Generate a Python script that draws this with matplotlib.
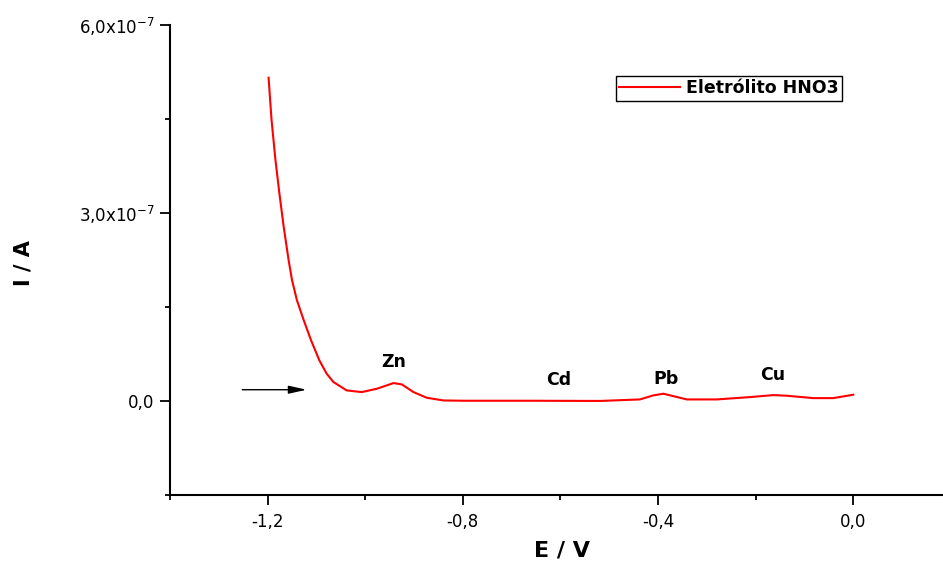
import matplotlib
matplotlib.use("Agg")
import matplotlib.pyplot as plt
from matplotlib.ticker import FixedLocator

# ---- data ----
potential_V = [-1.198, -1.192, -1.184, -1.176, -1.167, -1.157, -1.150, -1.140,
               -1.126, -1.111, -1.094, -1.079, -1.065, -1.038, -1.007, -0.976,
               -0.942, -0.925, -0.901, -0.874, -0.840, -0.799, -0.662, -0.519,
               -0.437, -0.410, -0.389, -0.372, -0.341, -0.280, -0.212, -0.164,
               -0.136, -0.082, -0.041, 0.000]
current_e7 = [5.155, 4.488, 3.848, 3.320, 2.776, 2.248, 1.928, 1.608,
              1.288, 0.968, 0.648, 0.435, 0.301, 0.168, 0.141, 0.195,
              0.285, 0.264, 0.141, 0.051, 0.008, 0.003, 0.003, 0.000,
              0.024, 0.088, 0.115, 0.083, 0.024, 0.024, 0.061, 0.093,
              0.083, 0.045, 0.045, 0.099]
current_A = [v * 1e-7 for v in current_e7]

series_label = "Eletrólito HNO3"
peak_names = ["Zn", "Cd", "Pb", "Cu"]
peak_E = [-0.942, -0.603, -0.384, -0.166]
peak_I = [6.2e-8, 3.3e-8, 3.55e-8, 4.2e-8]

x_major = [-1.2, -0.8, -0.4, 0.0]
x_major_labels = ["-1,2", "-0,8", "-0,4", "0,0"]
x_minor = [-1.4, -1.0, -0.6, -0.2]
y_major = [0.0, 3e-7, 6e-7]
y_major_labels = ["0,0", r"3,0x10$^{-7}$", r"6,0x10$^{-7}$"]
y_minor = [-1.5e-7, 1.5e-7, 4.5e-7]

W, H = 943, 561
fig = plt.figure(figsize=(W / 100, H / 100), dpi=100)
left, right_px, top_px, bottom_px = 170, 943, 24.7, 495
ax = fig.add_axes([left / W, (H - bottom_px) / H,
                   (right_px - left) / W, (bottom_px - top_px) / H])

ax.plot(potential_V, current_A, color="#ff0000", lw=1.5, label=series_label)

ax.set_xlim(-1.4, 0.184)
ax.set_ylim(-1.5e-7, 6e-7)

for s in ["top", "right"]:
    ax.spines[s].set_visible(False)
for s in ["left", "bottom"]:
    ax.spines[s].set_linewidth(1.5)

ax.xaxis.set_major_locator(FixedLocator(x_major))
ax.set_xticklabels(x_major_labels)
ax.xaxis.set_minor_locator(FixedLocator(x_minor))
ax.yaxis.set_major_locator(FixedLocator(y_major))
ax.set_yticklabels(y_major_labels)
ax.yaxis.set_minor_locator(FixedLocator(y_minor))

ax.tick_params(which="major", length=7, width=1.3, labelsize=12, pad=4)
ax.tick_params(which="minor", length=3.5, width=1.3)
ax.tick_params(axis="x", which="major", pad=6)

ax.set_xlabel("E / V", fontsize=16, fontweight="bold")
ax.xaxis.label.set_va("center")
ax.xaxis.set_label_coords(0.5067, -0.118)
ax.set_ylabel("I / A", fontsize=15, fontweight="bold")
ax.yaxis.label.set_va("center")
ax.yaxis.set_label_coords(-0.19, 0.493)

for name, e, i in zip(peak_names, peak_E, peak_I):
    ax.text(e, i, name, ha="center", va="center", fontsize=12.5,
            fontweight="bold")

ax.annotate("", xy=(-1.120, 1.79e-8), xytext=(-1.252, 1.79e-8),
            arrowprops=dict(arrowstyle="-|>,head_length=0.9,head_width=0.2",
                            color="black", lw=1, mutation_scale=12,
                            shrinkA=0, shrinkB=0))

leg = ax.legend(loc="upper left", bbox_to_anchor=(616 / W, 1 - 76 / H),
                bbox_transform=fig.transFigure, frameon=True, fancybox=False,
                edgecolor="black", framealpha=1, borderpad=0.2,
                handlelength=3.5, handletextpad=0.35, borderaxespad=0,
                prop=dict(size=12.5, weight="bold"))
leg.get_frame().set_linewidth(1.0)

fig.savefig("out.png", dpi=100)
